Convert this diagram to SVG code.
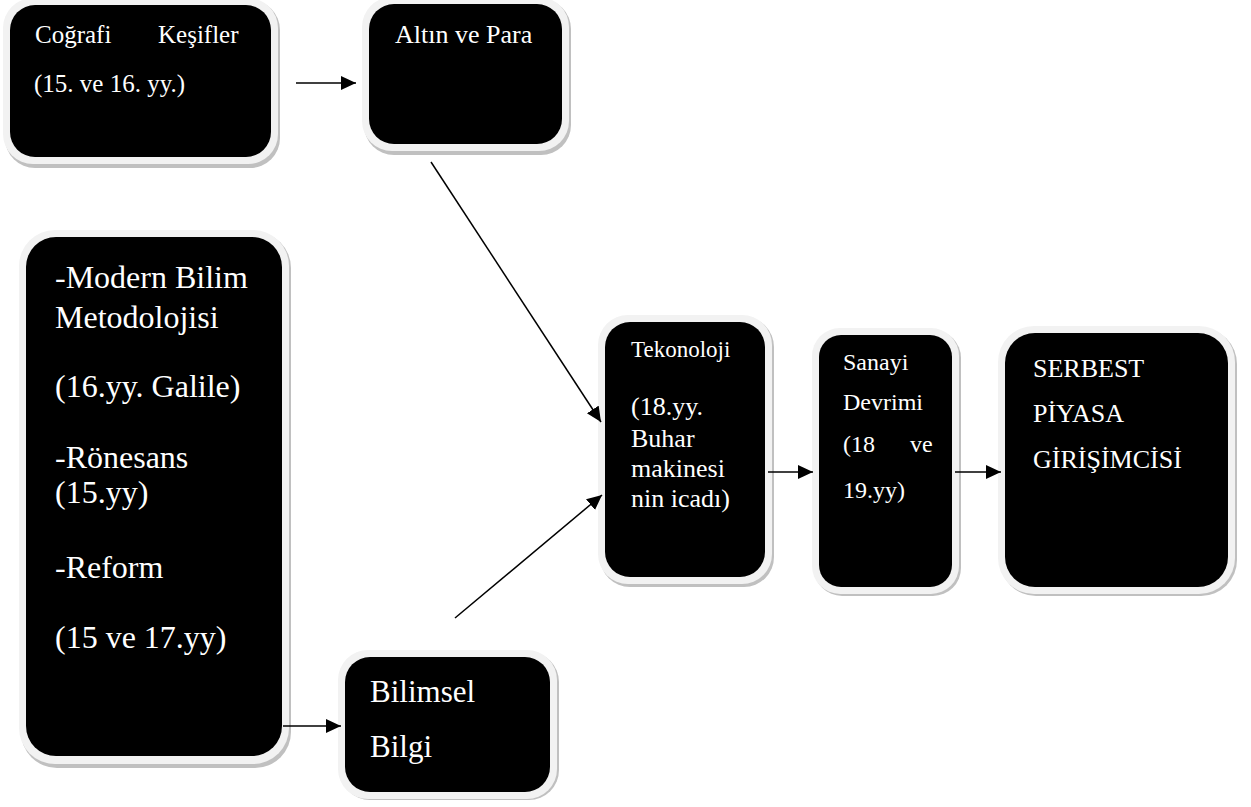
<svg xmlns="http://www.w3.org/2000/svg" width="1251" height="807" viewBox="0 0 1251 807">
<style>
.sh{fill:#c0c0c0}
.ou{fill:#f2f2f2}
.bk{fill:#000}
text{font-family:'Liberation Serif','Times New Roman',serif;fill:#fff}
.c{stroke:#000;stroke-width:1.5;fill:none;marker-end:url(#ah)}
</style>
<defs>
<marker id="ah" markerUnits="userSpaceOnUse" markerWidth="16" markerHeight="16" refX="15" refY="7" orient="auto">
<path d="M0,0 L15,7 L0,14 z" fill="#000"/>
</marker>
</defs>
<rect width="1251" height="807" fill="#fff"/>
<g font-family="'Liberation Serif', serif">
<g id="n1">
<rect class="sh" x="5" y="0" width="275" height="168" rx="30"/>
<rect class="ou" x="3" y="-2" width="275" height="166" rx="30"/>
<rect class="bk" x="10" y="5" width="261" height="152" rx="25"/>
<text font-size="25"><tspan x="35" y="43">Coğrafi</tspan><tspan x="158" y="43">Keşifler</tspan><tspan x="34" y="92">(15. ve 16. yy.)</tspan></text>
</g>
<g id="n2">
<rect class="sh" x="364" y="-1" width="207" height="156" rx="30"/>
<rect class="ou" x="362" y="-3" width="207" height="154" rx="30"/>
<rect class="bk" x="369" y="4" width="193" height="140" rx="25"/>
<text font-size="26" x="395" y="43">Altın ve Para</text>
</g>
<g id="n3">
<rect class="sh" x="21" y="232" width="270" height="536" rx="36"/>
<rect class="ou" x="19" y="230" width="270" height="534" rx="36"/>
<rect class="bk" x="26" y="237" width="256" height="519" rx="30"/>
<text font-size="32"><tspan x="55" y="288">-Modern Bilim</tspan><tspan x="55" y="328">Metodolojisi</tspan><tspan x="55" y="397">(16.yy. Galile)</tspan><tspan x="55" y="468">-Rönesans</tspan><tspan x="55" y="503">(15.yy)</tspan><tspan x="55" y="578">-Reform</tspan><tspan x="55" y="648">(15 ve 17.yy)</tspan></text>
</g>
<g id="n4">
<rect class="sh" x="600" y="317" width="174" height="270" rx="30"/>
<rect class="ou" x="598" y="315" width="174" height="269" rx="30"/>
<rect class="bk" x="605" y="322" width="160" height="255" rx="25"/>
<text font-size="23" x="631" y="357">Tekonoloji</text>
<text font-size="26"><tspan x="631" y="415">(18.yy.</tspan><tspan x="631" y="447">Buhar</tspan><tspan x="631" y="477">makinesi</tspan><tspan x="631" y="507">nin icadı)</tspan></text>
</g>
<g id="n5">
<rect class="sh" x="814" y="330" width="147" height="266" rx="28"/>
<rect class="ou" x="812" y="328" width="147" height="266" rx="28"/>
<rect class="bk" x="819" y="335" width="133" height="252" rx="22"/>
<text font-size="24"><tspan x="843" y="370">Sanayi</tspan><tspan x="843" y="410">Devrimi</tspan><tspan x="843" y="452">(18</tspan><tspan x="910" y="452">ve</tspan><tspan x="843" y="498">19.yy)</tspan></text>
</g>
<g id="n6">
<rect class="sh" x="1000" y="328" width="237" height="268" rx="36"/>
<rect class="ou" x="998" y="326" width="237" height="268" rx="36"/>
<rect class="bk" x="1005" y="333" width="223" height="254" rx="30"/>
<text font-size="26"><tspan x="1033" y="377">SERBEST</tspan><tspan x="1033" y="422">PİYASA</tspan><tspan x="1033" y="468">GİRİŞİMCİSİ</tspan></text>
</g>
<g id="n7">
<rect class="sh" x="340" y="652" width="219" height="148" rx="30"/>
<rect class="ou" x="338" y="650" width="219" height="149" rx="30"/>
<rect class="bk" x="345" y="657" width="205" height="135" rx="25"/>
<text font-size="31"><tspan x="370" y="702">Bilimsel</tspan><tspan x="370" y="757">Bilgi</tspan></text>
</g>
</g>
<g id="connectors">
<line class="c" x1="296" y1="83" x2="356" y2="83"/>
<line class="c" x1="431" y1="162" x2="601" y2="422"/>
<line class="c" x1="455" y1="618" x2="602" y2="495"/>
<line class="c" x1="283" y1="726" x2="341" y2="726"/>
<line class="c" x1="768" y1="472" x2="813" y2="472"/>
<line class="c" x1="955" y1="472" x2="1001" y2="472"/>
</g>
</svg>
